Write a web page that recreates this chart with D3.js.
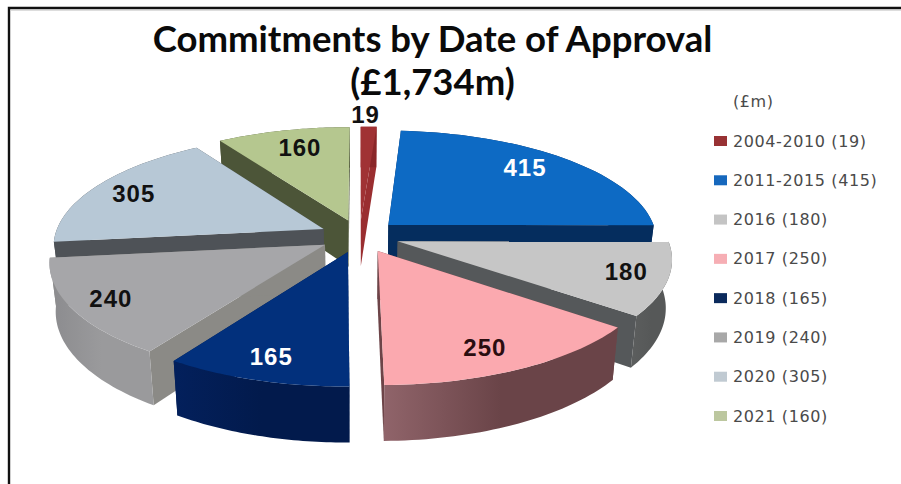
<!DOCTYPE html>
<html>
<head>
<meta charset="utf-8">
<style>
  html, body { margin: 0; padding: 0; background: #fff; }
  svg { display: block; }
</style>
<script src="https://cdn.jsdelivr.net/npm/d3@7/dist/d3.min.js"></script>
</head>
<body>
<svg id="chart" width="901" height="484"></svg>
<script>
// Commitments per approval period, in £m
const periods = ["2004-2010", "2011-2015", "2016", "2017", "2018", "2019", "2020", "2021"];
const commitments = [19, 415, 180, 250, 165, 240, 305, 160];
const titleLines = ["Commitments by Date of Approval", "(£1,734m)"];
const legendHeading = "(£m)";

// Face colours per period
const topColours  = ["#a03234", "#0d6ac4", "#c6c6c6", "#fba9af", "#02307c", "#a6a6a9", "#b7c8d6", "#b5c78f"];
const cutColours  = ["#9a2e30", "#052d5e", "#55585a", "#6d4448", "#021c50", "#8b8a86", "#4e5257", "#4c5538"];
const wallFrom    = ["#9a2e30", "#052d5e", "#5c5e5e", "#90646a", "#03205c", "#8b8b8e", "#4e5257", "#4c5538"];
const wallTo      = ["#8a2628", "#052d5e", "#565858", "#6a4448", "#021a4c", "#9a9a9c", "#4e5257", "#4c5538"];
const swatchColours = ["#983234", "#1668bd", "#c4c4c4", "#f6aeb4", "#0b2a5c", "#a8a8a8", "#c0cad2", "#bcc79f"];
const labelColours = ["#111", "#fff", "#111", "#2a0d10", "#fff", "#111", "#111", "#111"];
const labelNudgeX = [-1, 11, 42, 11, -15, -41, -29, -1];
const labelNudgeY = [-38, -9, 4, 17, 19, 10, -5, -8];

// Back-to-front painting order
const paintOrder = [0, 1, 7, 6, 2, 5, 3, 4];

// Pie geometry on the ground plane and its perspective view
const cx = 359.5, cy = 236;
const radius = 269, explode = 40, wallHeight = 47;
const tilt = 0.411, viewDistance = 1913, wallTaper = 0.98;

const svg = d3.select("#chart");

const gradients = svg.append("defs").selectAll("linearGradient")
  .data(periods).join("linearGradient")
  .attr("id", (d, i) => "wall" + i);
gradients.append("stop").attr("offset", 0).attr("stop-color", (d, i) => wallFrom[i]);
gradients.append("stop").attr("offset", 0.5).attr("stop-color", (d, i) => wallTo[i]);

// Frame along the top and left
svg.append("path")
  .attr("d", d3.line()([[9, 484], [9, 8], [901, 8]]))
  .attr("fill", "none").attr("stroke", "#111").attr("stroke-width", 2.4);
svg.append("line")
  .attr("x1", 11).attr("x2", 901).attr("y1", 10).attr("y2", 10)
  .attr("stroke", "#bbb").attr("stroke-width", 1);

const pieLayout = d3.pie().sort(null).startAngle(0).endAngle(2 * Math.PI);
const arcs = pieLayout(commitments);

// Ground-plane point of a slice (clockwise from the back) to the screen
function project(slice, r, angle, lowered) {
  const mid = (slice.startAngle + slice.endAngle) / 2;
  const X = explode * Math.sin(mid) + r * Math.sin(angle);
  const Z = -explode * Math.cos(mid) - r * Math.cos(angle);
  const p = 1 / (1 - Z / viewDistance);
  const sx = X * p * (lowered ? wallTaper : 1);
  const sy = tilt * Z * p + (lowered ? wallHeight * p : 0);
  return [cx + sx, cy + sy];
}

function rim(slice, lowered) {
  const n = 40;
  return d3.range(n + 1).map(i => {
    const a = slice.startAngle + (slice.endAngle - slice.startAngle) * i / n;
    return project(slice, radius, a, lowered);
  });
}

const poly = d3.line().curve(d3.curveLinearClosed);

const pie = svg.append("g");
paintOrder.forEach(i => {
  const s = arcs[i];
  const g = pie.append("g");
  const cut = a => [
    project(s, 0, a, false), project(s, radius, a, false),
    project(s, radius, a, true), project(s, 0, a, true)
  ];
  g.append("path").attr("d", poly(cut(s.startAngle))).attr("fill", cutColours[i]);
  g.append("path").attr("d", poly(cut(s.endAngle))).attr("fill", cutColours[i]);
  g.append("path")
    .attr("d", poly(rim(s, false).concat(rim(s, true).reverse())))
    .attr("fill", `url(#wall${i})`);
  g.append("path")
    .attr("d", poly([project(s, 0, s.startAngle, false)].concat(rim(s, false))))
    .attr("fill", topColours[i]);
});

// Value labels
svg.append("g").selectAll("text")
  .data(arcs).join("text")
  .attr("x", (d, i) => project(d, radius * 0.7, (d.startAngle + d.endAngle) / 2, false)[0] + labelNudgeX[i])
  .attr("y", (d, i) => project(d, radius * 0.7, (d.startAngle + d.endAngle) / 2, false)[1] + labelNudgeY[i])
  .attr("dy", "0.36em")
  .attr("text-anchor", "middle")
  .attr("font-family", "'Liberation Sans', Arial, sans-serif")
  .attr("font-weight", 700)
  .attr("font-size", 24)
  .attr("letter-spacing", 1)
  .attr("fill", (d, i) => labelColours[i])
  .text(d => d.data);

// Title
svg.append("g").selectAll("text")
  .data(titleLines).join("text")
  .attr("x", 432.5)
  .attr("y", (d, i) => 52 + i * 43)
  .attr("text-anchor", "middle")
  .attr("font-family", "Lato, sans-serif")
  .attr("font-weight", 700)
  .attr("font-size", 36.5)
  .attr("fill", "#0a0a0a")
  .text(d => d);

// Legend
const legendY = d3.scalePoint().domain(periods).range([141, 416]);
const legend = svg.append("g")
  .attr("font-family", "'DejaVu Sans', sans-serif")
  .attr("font-size", 16)
  .attr("letter-spacing", 0.6)
  .attr("fill", "#4a4a4a");
legend.append("text")
  .attr("x", 733).attr("y", legendY(periods[0]) - 39.3).attr("dy", "0.35em")
  .text(legendHeading);
const rows = legend.selectAll("g").data(periods).join("g")
  .attr("transform", d => `translate(0,${legendY(d)})`);
rows.append("rect")
  .attr("x", 714).attr("y", -5).attr("width", 13).attr("height", 10)
  .attr("fill", (d, i) => swatchColours[i]);
rows.append("text")
  .attr("x", 733).attr("dy", "0.35em")
  .text((d, i) => `${d} (${commitments[i]})`);
</script>
</body>
</html>
